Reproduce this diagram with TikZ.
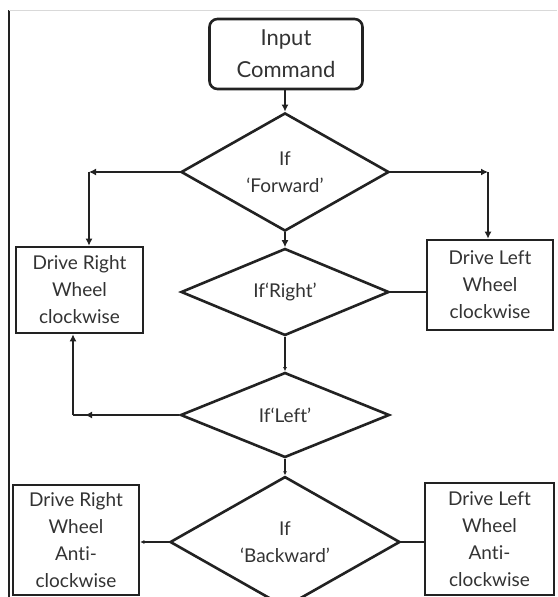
\documentclass[tikz,border=0pt]{standalone}
\usepackage{fontspec}
\setmainfont{Lato}[Ligatures={NoCommon}]
\usetikzlibrary{shapes.geometric,arrows.meta}
\definecolor{ink}{HTML}{222222}
\definecolor{txt}{HTML}{333333}
\begin{document}
\begin{tikzpicture}[x=1pt,y=-1pt,
  line width=2.6pt, draw=ink,
  every node/.style={text=txt, align=center, font=\fontsize{19}{27}\selectfont},
  proc/.style={draw=ink, line width=2.6pt, rectangle, inner sep=0pt},
  decide/.style={draw=ink, line width=2.6pt, diamond, inner sep=0pt},
  arr/.style={-{Latex[length=7pt,width=7pt]}},
  tinyarr/.style={-{Latex[length=4pt,width=4pt]}}
]
\useasboundingbox (0,0) rectangle (557,597);
\fill[white] (0,0) rectangle (557,597);
% page edges
\draw[line width=1.6pt, draw=ink] (9,10) -- (9,597);
\draw[line width=1pt, draw=black!15] (9,10) -- (557,10);

% nodes
\node[proc, rounded corners=8pt, minimum width=153pt, minimum height=70pt,
      font=\fontsize{22}{32}\selectfont] (in) at (286,54) {Input\\Command};
\node[decide, minimum width=208pt, minimum height=87pt] (F) at (285,172) {If\\‘Forward’};
\node[decide, minimum width=208pt, minimum height=87pt] (R) at (285,292) {If‘Right’};
\node[decide, minimum width=209pt, minimum height=85pt] (L) at (285,415) {If‘Left’};
\node[decide, minimum width=230pt, minimum height=87pt] (B) at (285,542) {If\\‘Backward’};

\node[proc, minimum width=127pt, minimum height=86pt] (DR) at (79.5,290) {Drive Right\\Wheel\\clockwise};
\node[proc, minimum width=126pt, minimum height=90pt] (DL) at (490,285) {Drive Left\\Wheel\\clockwise};
\node[proc, minimum width=126pt, minimum height=110pt] (DRA) at (76,540) {Drive Right\\Wheel\\Anti-\\clockwise};
\node[proc, minimum width=129pt, minimum height=112pt] (DLA) at (489.5,539) {Drive Left\\Wheel\\Anti-\\clockwise};

% helper coordinates
\coordinate (cL) at (89,172);
\coordinate (cR) at (488,172);
\coordinate (cLL) at (73,415);

% connectors
\draw[arr] (in.south -| F.north) -- (F.north);
\draw[arr] (F.west) -- (cL);
\draw[arr] (cL) -- (cL |- DR.north);
\draw[arr] (F.east) -- (cR);
\draw[arr] (cR) -- (cR |- DL.north);
\draw[arr] (F.south) -- (R.north);
\draw (R.east) -- (R.east -| DL.west);
\draw[tinyarr] (R.south) -- (L.north);
\draw[arr] (L.west) -- ([xshift=12pt]cLL);
\draw (L.west) -- (cLL);
\draw[arr] (cLL) -- (cLL |- DR.south);
\draw[tinyarr] (L.south) -- (B.north);
\draw[tinyarr] (B.west) -- (B.west -| DRA.east);
\draw (B.east) -- (B.east -| DLA.west);
\end{tikzpicture}
\end{document}
